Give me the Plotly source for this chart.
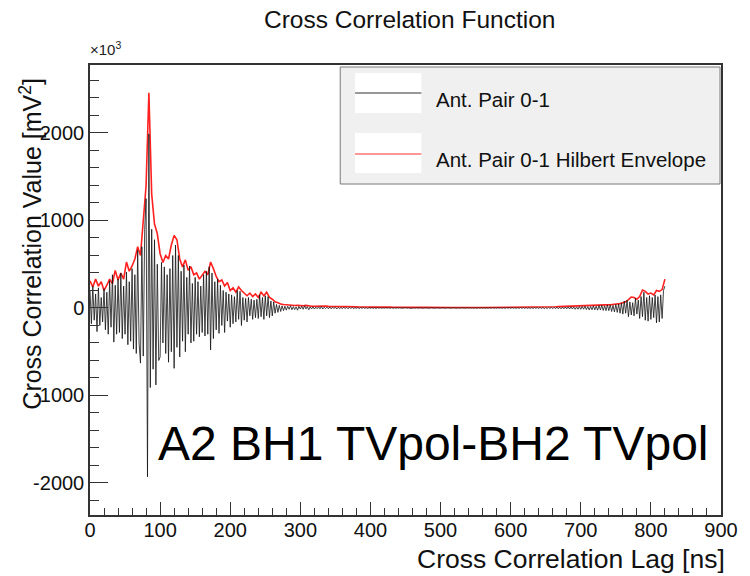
import plotly.graph_objects as go

# ---------------- data ----------------
# Cross-correlation value (x10^3 mV^2), sampled every 2 ns from 0 to 820 ns
ccf_step_ns = 2
ccf_0_1 = [
    200, -180, 250, -140, 160, -270, 230, -200, 120, -160,       # 0-18
    220, -250, 180, -300, 310, -220, 380, -390, 260, -300,       # 20-38
    330, -280, 400, -350, 250, -300, 410, -420, 300, -380,       # 40-58
    450, -470, 380, -520, 660, -400, -630, 700, -550, 900,       # 60-78
    1250, -1930, 1990, -910, 900, -700, 780, -880, 500, -600,    # 80-98
    -560, 520, -400, 470, -520, 380, -620, 450, -500, 600,       # 100-118
    -690, 720, -450, 600, -560, 420, -380, 490, -500, 350,       # 120-138
    -300, 480, -400, 280, -380, 350, -300, 300, -330, 250,       # 140-158
    -280, 380, -320, 420, -300, 470, -480, 400, -350, 300,       # 160-178
    -250, 330, -290, 260, -200, 200, -280, 180, -150, 160,       # 180-198
    -220, 150, -180, 130, -160, 200, -130, 190, -200, 120,       # 200-218
    -140, 110, -160, 120, -90, 100, -130, 90, -110, 100,         # 220-238
    -120, 150, -100, 120, -130, 140, -90, 130, -110, 80,         # 240-258
    -90, 70, -60, 40, -50, 30, -40, 25, -30, 20,                 # 260-278
    -25, 20, -15, 25, -20, 15, -18, 12, -25, 18,                 # 280-298
    -12, 20, -15, 25, -10, 15, -20, 12, -10, 14,                 # 300-318
    -12, 10, -8, 14, -10, 18, -12, 9, -7, 10,                    # 320-338
    -9, 12, -10, 8, -6, 9, -11, 7, -8, 6,                        # 340-358
    -7, 8, -6, 7, -9, 6, -5, 7, -6, 5,                           # 360-378
    -5, 6, -7, 5, -4, 6, -5, 4, -6, 5,                           # 380-398
    -4, 5, -4, 3, -5, 4, -3, 4, -4, 3,                           # 400-418
    -3, 4, -3, 3, -4, 3, -3, 2, -3, 3,                           # 420-438
    -2, 3, -3, 2, -2, 3, -2, 2, -3, 2,                           # 440-458
    -2, 2, -2, 3, -2, 2, -2, 2, -2, 2,                           # 460-478
    -2, 2, -2, 2, -2, 2, -2, 2, -2, 2,                           # 480-498
    -2, 2, -2, 2, -2, 2, -2, 2, -2, 2,                           # 500-518
    -2, 2, -2, 2, -3, 2, -2, 2, -2, 3,                           # 520-538
    -2, 3, -2, 2, -3, 2, -3, 3, -2, 3,                           # 540-558
    -3, 3, -3, 2, -3, 3, -3, 4, -3, 3,                           # 560-578
    -3, 4, -3, 4, -4, 3, -4, 4, -3, 4,                           # 580-598
    -4, 5, -4, 4, -5, 4, -5, 5, -4, 5,                           # 600-618
    -5, 6, -5, 5, -6, 5, -6, 6, -5, 6,                           # 620-638
    -6, 7, -6, 7, -8, 6, -7, 8, -7, 9,                           # 640-658
    -8, 9, -8, 10, -9, 8, -10, 11, -9, 12,                       # 660-678
    -10, 12, -11, 14, -12, 13, -15, 12, -14, 16,                 # 680-698
    -15, 18, -14, 20, -18, 16, -22, 18, -20, 25,                 # 700-718
    -22, 20, -25, 28, -22, 30, -28, 25, -30, 35,                 # 720-738
    -30, 35, -40, 30, -45, 40, -50, 45, -60, 55,                 # 740-758
    -70, 80, -60, 90, -100, 70, -80, 60, -90, 110,               # 760-778
    -70, 90, -120, 130, -100, 180, -140, 120, -150, 140,         # 780-798
    -130, 120, -110, 150, -170, 130, -160, 150, -120, 200,       # 800-818
    250,                                                         # 820
]

# Hilbert envelope (x10^3 mV^2), sampled every 4 ns from 0 to 820 ns
env_step_ns = 4
ccf_0_1_env = [
    310, 240, 330, 250, 300, 200, 260, 330, 280, 430,            # 0-36
    320, 400, 330, 525, 420, 480, 560, 700, 600, 1000,           # 40-76
    1400, 2460, 1300, 960, 850, 620, 520, 600, 560, 720,         # 80-116
    830, 780, 560, 470, 550, 430, 470, 380, 400, 330,            # 120-156
    380, 420, 380, 525, 450, 360, 300, 320, 250, 290,            # 160-196
    200, 230, 180, 240, 200, 170, 140, 170, 130, 160,            # 200-236
    120, 180, 140, 180, 120, 100, 70, 60, 45, 40,                # 240-276
    35, 30, 30, 28, 30, 25, 25, 30, 22, 20,                      # 280-316
    20, 22, 18, 24, 22, 18, 16, 18, 17, 15,
    16, 17, 14, 14, 15, 13, 12, 14, 12, 11,
    10, 11, 10, 10, 11, 9, 9, 10, 9, 8,
    9, 8, 9, 8, 8, 7, 8, 7, 7, 7,
    6, 7, 6, 6, 7, 6, 6, 6, 6, 5,
    6, 5, 6, 6, 5, 6, 6, 5, 6, 6,
    6, 6, 7, 6, 7, 7, 7, 8, 7, 7,
    8, 8, 8, 9, 9, 9, 10, 10, 10, 11,
    11, 12, 12, 13, 13, 14, 14, 15, 16, 16,
    17, 18, 18, 19, 20, 20, 21, 22, 22, 23,
    24, 25, 26, 27, 28,
    32, 38, 42, 45, 50, 60, 70, 95, 125, 120,
    100, 130, 205, 190, 160, 170, 150, 200, 190, 210,
    330,
]

lag_ns = [i * ccf_step_ns for i in range(len(ccf_0_1))]
lag_env_ns = [i * env_step_ns for i in range(len(ccf_0_1_env))]

x_tick_vals = [0, 100, 200, 300, 400, 500, 600, 700, 800, 900]
x_tick_text = ["0", "100", "200", "300", "400", "500", "600", "700", "800", "900"]
y_tick_vals = [-2000, -1000, 0, 1000, 2000]
y_tick_text = ["-2000", "-1000", "0", "1000", "2000"]

series_names = ["Ant. Pair 0-1", "Ant. Pair 0-1 Hilbert Envelope"]
title_text = "Cross Correlation Function"
x_title = "Cross Correlation Lag [ns]"
y_title = "Cross Correlation Value [mV<sup>2</sup>]"
overlay_text = "A2 BH1 TVpol-BH2 TVpol"

# ---------------- layout geometry ----------------
W, H = 750, 576
PL, PR, PT, PB = 90, 728, 65, 515
FONT = "Liberation Sans, Arial, Helvetica, sans-serif"


def px(x):
    return (x - PL) / (PR - PL)


def py(y):
    return (PB - y) / (PB - PT)


fig = go.Figure()
fig.add_trace(go.Scatter(x=lag_env_ns, y=ccf_0_1_env, mode="lines",
                         line=dict(color="#ff2020", width=1.6),
                         name=series_names[1], showlegend=False))
fig.add_trace(go.Scatter(x=lag_ns, y=ccf_0_1, mode="lines",
                         line=dict(color="rgba(20,20,20,0.8)", width=1),
                         name=series_names[0], showlegend=False))

axis_col = "#333333"
fig.update_xaxes(range=[0, 900], tickvals=x_tick_vals, ticktext=x_tick_text,
                 ticks="inside", ticklen=13, ticklabelstandoff=-4,
                 tickcolor=axis_col, tickwidth=1, showline=True, linecolor=axis_col,
                 linewidth=1.5, mirror=True, showgrid=False, zeroline=False,
                 tickfont=dict(family=FONT, size=20, color="#111"),
                 minor=dict(dtick=20, ticks="inside", ticklen=7, tickcolor=axis_col, showgrid=False))
fig.update_yaxes(range=[-2366, 2777], tickvals=y_tick_vals, ticktext=y_tick_text,
                 ticks="inside", ticklen=18,
                 tickcolor=axis_col, tickwidth=1, showline=True, linecolor=axis_col,
                 linewidth=1.5, mirror=True, showgrid=False, zeroline=False,
                 tickfont=dict(family=FONT, size=20, color="#111"),
                 minor=dict(dtick=200, ticks="inside", ticklen=9, tickcolor=axis_col, showgrid=False))

shapes = [
    dict(type="rect", xref="paper", yref="paper", x0=px(343), x1=px(727), y0=py(184), y1=py(67),
         fillcolor="#f0f0f0", line=dict(color="#7a7a7a", width=1), layer="above"),
    dict(type="rect", xref="paper", yref="paper", x0=px(358), x1=px(425), y0=py(113), y1=py(73),
         fillcolor="white", line=dict(width=0), layer="above"),
    dict(type="rect", xref="paper", yref="paper", x0=px(358), x1=px(425), y0=py(173), y1=py(133),
         fillcolor="white", line=dict(width=0), layer="above"),
    dict(type="line", xref="paper", yref="paper", x0=px(358), x1=px(425), y0=py(93), y1=py(93),
         line=dict(color="#333", width=1.2), layer="above"),
    dict(type="line", xref="paper", yref="paper", x0=px(358), x1=px(425), y0=py(154), y1=py(154),
         line=dict(color="#ff3030", width=1.2), layer="above"),
]

annotations = [
    dict(text=title_text, x=px(413), y=py(19), xref="paper", yref="paper",
         xanchor="center", yanchor="middle", showarrow=False,
         font=dict(family=FONT, size=24.5, color="#111")),
    dict(text="×10<sup>3</sup>", x=px(88), y=py(48), xref="paper", yref="paper",
         xanchor="left", yanchor="middle", showarrow=False,
         font=dict(family=FONT, size=15, color="#222")),
    dict(text=y_title, x=px(30), y=py(76), xref="paper", yref="paper", textangle=-90,
         xanchor="center", yanchor="top", showarrow=False,
         font=dict(family=FONT, size=25, color="#111")),
    dict(text=x_title, x=px(734), y=py(559), xref="paper", yref="paper",
         xanchor="right", yanchor="middle", showarrow=False,
         font=dict(family=FONT, size=26.5, color="#111")),
    dict(text=overlay_text, x=px(437), y=py(443), xref="paper", yref="paper",
         xanchor="center", yanchor="middle", showarrow=False,
         font=dict(family=FONT, size=48, color="#000")),
    dict(text=series_names[0], x=px(438), y=py(100), xref="paper", yref="paper",
         xanchor="left", yanchor="middle", showarrow=False,
         font=dict(family=FONT, size=20.5, color="#111")),
    dict(text=series_names[1], x=px(438), y=py(159), xref="paper", yref="paper",
         xanchor="left", yanchor="middle", showarrow=False,
         font=dict(family=FONT, size=20.5, color="#111")),
]

fig.update_layout(width=W, height=H, margin=dict(l=PL, r=W - PR, t=PT, b=H - PB),
                  paper_bgcolor="white", plot_bgcolor="white", showlegend=False,
                  shapes=shapes, annotations=annotations,
                  font=dict(family=FONT, color="#111"))

fig.write_html("out.html")
